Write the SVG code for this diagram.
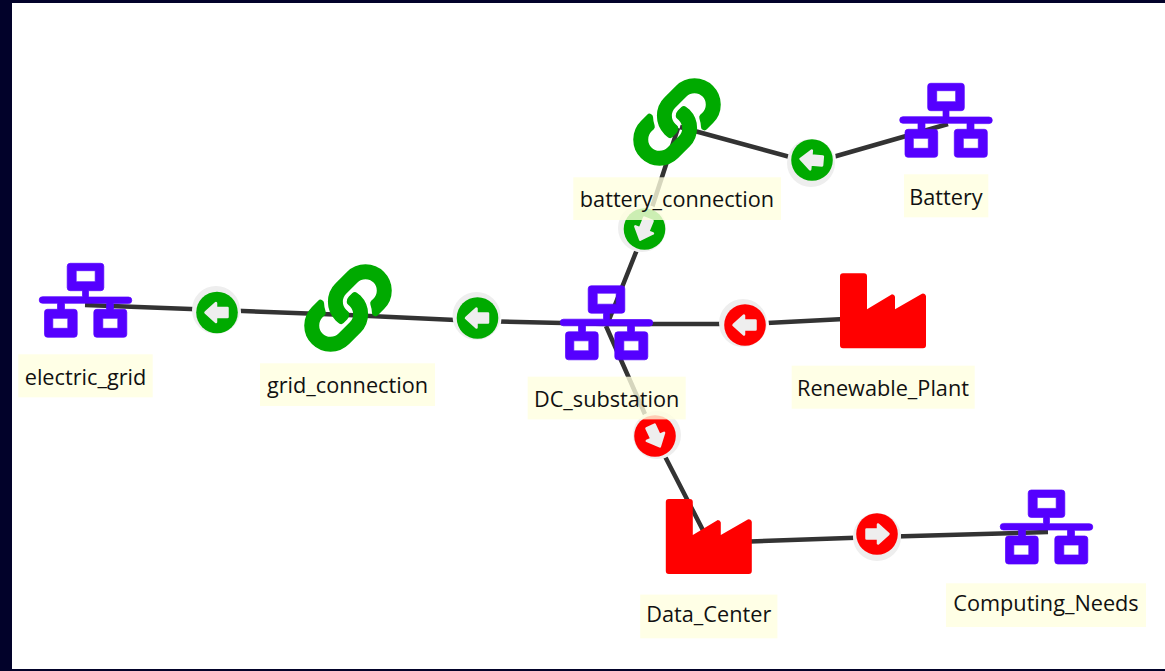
<svg xmlns="http://www.w3.org/2000/svg" width="1165" height="671" viewBox="0 0 1165 671">
<style>
.line{fill:none;stroke:#333;stroke-width:4.500;stroke-linejoin:round}
.net{fill:#5500ff;fill-rule:evenodd;stroke:#5500ff;stroke-width:.7}
.link{fill:#00aa00;stroke:#00aa00;stroke-width:9}
.factory{fill:#ff0000}
.lab{fill:#ffffe0;fill-opacity:.8}
.txt{font-family:"Open Sans","Noto Sans",sans-serif;font-size:21.700px;fill:#111;text-anchor:middle}
.arrow{fill:#eee;stroke:#eee;stroke-width:2.500;stroke-linejoin:round}
.gap{fill:#fff}
.halo{fill:#eee}
.g{fill:#00aa00}
.r{fill:#ff0000}
</style>
<defs>
<path id="netIcon" d="M-15.3-36.7h30.6a3 3 0 0 1 3 3v21.4a3 3 0 0 1-3 3H3v6.3H43a3 3 0 0 1 0 6.6H28v5.700h10.300a3 3 0 0 1 3 3v22a3 3 0 0 1-3 3H11.300a3 3 0 0 1-3-3v-22a3 3 0 0 1 3-3H21V3.300H-21v6h9.700a3 3 0 0 1 3 3v22a3 3 0 0 1-3 3H-38a3 3 0 0 1-3-3v-22a3 3 0 0 1 3-3H-28V3.300H-43a3 3 0 0 1 0-6.600H-3V-9.300H-15.300a3 3 0 0 1-3-3V-33.700a3 3 0 0 1 3-3zM-9.300-29.300v11h19v-11zM-32.700 18.300v10h15v-10zM17.300 18.300v10h15v-10z"/>
<path id="linkIcon" transform="scale(.168)" d="M326.612 185.391c59.747 59.809 58.927 155.698.36 214.59-.11.12-.24.25-.36.37l-67.2 67.2c-59.27 59.27-155.699 59.262-214.96 0-59.27-59.26-59.27-155.7 0-214.96l37.106-37.106c9.84-9.84 26.786-3.3 27.294 10.606.648 17.722 3.826 35.527 9.69 52.721 1.986 5.822.567 12.262-3.783 16.612l-13.087 13.087c-28.026 28.026-28.905 73.66-1.155 101.96 28.024 28.579 74.086 28.749 102.325.51l67.2-67.19c28.191-28.191 28.073-73.757 0-101.83-3.701-3.694-7.429-6.564-10.341-8.569a16.037 16.037 0 0 1-6.947-12.606c-.396-10.567 3.348-21.456 11.698-29.806l21.054-21.055c5.521-5.521 14.182-6.199 20.584-1.731a152.482 152.482 0 0 1 20.522 17.197zM467.547 44.449c-59.261-59.262-155.69-59.27-214.96 0l-67.2 67.2c-.12.12-.25.25-.36.37-58.566 58.892-59.387 154.781.36 214.59a152.454 152.454 0 0 0 20.521 17.196c6.402 4.468 15.064 3.789 20.584-1.731l21.054-21.055c8.35-8.35 12.094-19.239 11.698-29.806a16.037 16.037 0 0 0-6.947-12.606c-2.912-2.005-6.64-4.875-10.341-8.569-28.073-28.073-28.191-73.639 0-101.83l67.2-67.19c28.239-28.239 74.3-28.069 102.325.51 27.75 28.3 26.872 73.934-1.155 101.96l-13.087 13.087c-4.35 4.35-5.769 10.79-3.783 16.612 5.864 17.194 9.042 34.999 9.69 52.721.509 13.906 17.454 20.446 27.294 10.606l37.106-37.106c59.271-59.259 59.271-155.699.001-214.959z"/>
<path id="factoryIcon" d="M3 0h21a3 3 0 0 1 3 3V36L52 21a3 3 0 0 1 3 2.500V36L82 20.500a3 3 0 0 1 4 2.500V72a3 3 0 0 1-3 3H3a3 3 0 0 1-3-3V3a3 3 0 0 1 3-3z"/>
<path id="arrowLeft" d="M-11.500 0L-1-9.500V-4.500H10.500V4.500H-1V9.500z"/>
</defs>
<rect width="1165" height="671" fill="#02022a"/>
<rect x="12" y="3" width="1153" height="666" fill="#fff"/>
<g id="connectors">
<polyline class="line" points="948,124 812,163 680,127"/>
<polyline class="line" points="678,128 644,232 607,325"/>
<polyline class="line" points="85,305 217,310 348,315 477,321 606,324"/>
<polyline class="line" points="606,324 745,324 883,317"/>
<polyline class="line" points="606,326 655,437 708,540"/>
<polyline class="line" points="708,543 877,537 1048,532"/>
</g>
<g id="flow_battery"><circle class="gap" cx="812" cy="160" r="24"/><circle class="halo" cx="811" cy="163" r="24"/><circle class="g" cx="812" cy="160" r="20.800"/><use href="#arrowLeft" class="arrow" transform="translate(812 160) rotate(5)"/></g>
<g id="flow_battery_connection"><circle class="gap" cx="644.500" cy="229" r="24"/><circle class="halo" cx="642" cy="228" r="24"/><circle class="g" cx="644.500" cy="229" r="20.800"/><use href="#arrowLeft" class="arrow" transform="translate(644.500 229) rotate(-68)"/></g>
<g id="flow_electric_grid"><circle class="gap" cx="217" cy="312.500" r="24"/><circle class="halo" cx="216" cy="310" r="24"/><circle class="g" cx="217" cy="312.500" r="20.800"/><use href="#arrowLeft" class="arrow" transform="translate(217 312.500)"/></g>
<g id="flow_grid_connection"><circle class="gap" cx="477.500" cy="318" r="24"/><circle class="halo" cx="476.500" cy="316" r="24"/><circle class="g" cx="477.500" cy="318" r="20.800"/><use href="#arrowLeft" class="arrow" transform="translate(477.500 318)"/></g>
<g id="flow_renewable"><circle class="gap" cx="745" cy="325" r="24"/><circle class="halo" cx="743" cy="323" r="24"/><circle class="r" cx="745" cy="325" r="20.800"/><use href="#arrowLeft" class="arrow" transform="translate(745 325)"/></g>
<g id="flow_dc"><circle class="gap" cx="655" cy="436" r="24"/><circle class="halo" cx="657" cy="435" r="24"/><circle class="r" cx="655" cy="436" r="20.800"/><use href="#arrowLeft" class="arrow" transform="translate(655 436) rotate(-115)"/></g>
<g id="flow_data"><circle class="gap" cx="877" cy="534" r="24"/><circle class="halo" cx="877" cy="537" r="24"/><circle class="r" cx="877" cy="534" r="20.800"/><use href="#arrowLeft" class="arrow" transform="translate(877 534) rotate(180)"/></g>
<g id="electric_grid"><use href="#netIcon" class="net" x="85.500" y="300"/><rect class="lab" x="18.300" y="354.300" width="134.400" height="43"/><text class="txt" x="85.500" y="384.500">electric_grid</text></g>
<g id="grid_connection"><use href="#linkIcon" class="link" transform="translate(305 265)"/><rect class="lab" x="260" y="363.300" width="175" height="42.700"/><text class="txt" x="347.500" y="393">grid_connection</text></g>
<g id="DC_substation"><use href="#netIcon" class="net" x="606.500" y="322.500"/><rect class="lab" x="527.700" y="376.700" width="158" height="42.700"/><text class="txt" x="606.700" y="407">DC_substation</text></g>
<g id="battery_connection"><use href="#linkIcon" class="link" transform="translate(634 79)"/><rect class="lab" x="573.300" y="177.300" width="207.700" height="42.700"/><text class="txt" x="677" y="207">battery_connection</text></g>
<g id="Battery"><use href="#netIcon" class="net" x="946" y="120"/><rect class="lab" x="904" y="174.300" width="84.300" height="43"/><text class="txt" x="946" y="204.500">Battery</text></g>
<g id="Renewable_Plant"><use href="#factoryIcon" class="factory" transform="translate(840 273.300)"/><rect class="lab" x="791.700" y="365.700" width="183" height="43"/><text class="txt" x="883" y="396">Renewable_Plant</text></g>
<g id="Data_Center"><use href="#factoryIcon" class="factory" transform="translate(665.800 499)"/><rect class="lab" x="640.200" y="594.600" width="137.200" height="43.700"/><text class="txt" x="708.800" y="622">Data_Center</text></g>
<g id="Computing_Needs"><use href="#netIcon" class="net" x="1046.500" y="526.700"/><rect class="lab" x="946" y="583.300" width="200" height="43.700"/><text class="txt" x="1046" y="611">Computing_Needs</text></g>
</svg>
